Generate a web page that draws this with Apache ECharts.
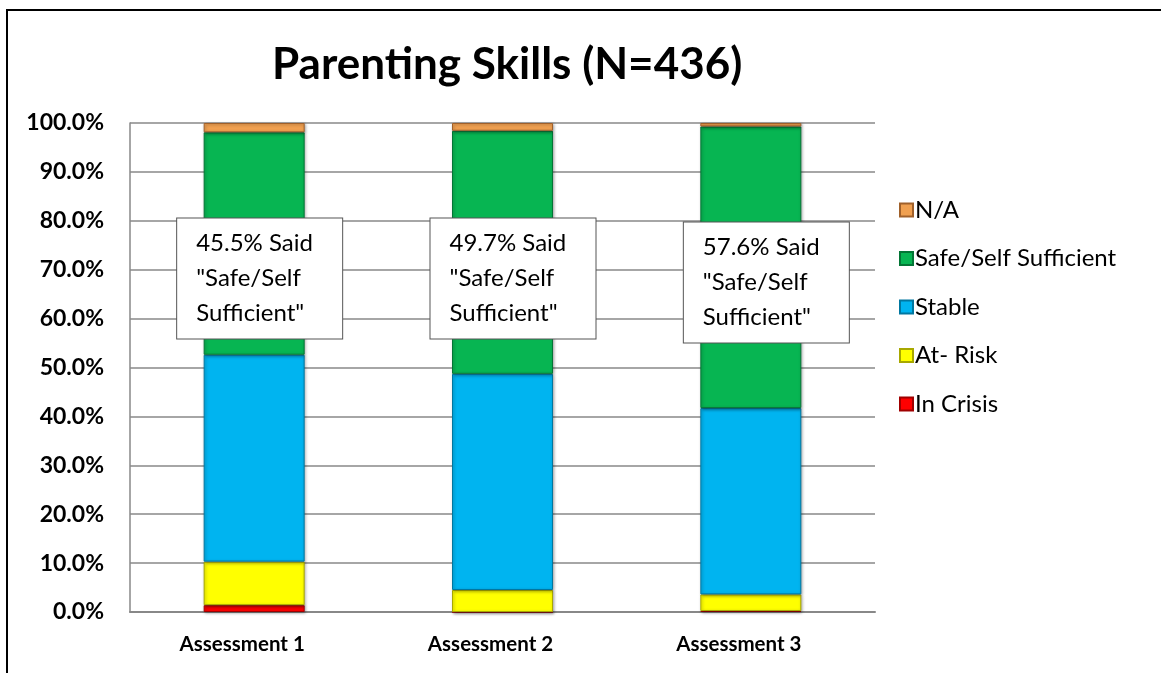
<!DOCTYPE html>
<html>
<head>
<meta charset="utf-8">
<script src="https://cdn.jsdelivr.net/npm/echarts@6/dist/echarts.min.js"></script>
<style>
  html, body { margin: 0; padding: 0; background: #fff; }
  #chart { width: 1161px; height: 673px; }
</style>
</head>
<body>
<div id="chart"></div>
<script>
// values, percent of N=436
const categories = ['Assessment 1', 'Assessment 2', 'Assessment 3']
const inCrisis = [1.4, 0, 0.2]
const atRisk = [8.9, 4.5, 3.4]
const stable = [42.3, 44.2, 38.1]
const safeSelf = [45.5, 49.7, 57.6]
const notApplicable = [1.9, 1.6, 0.7]
// where the callout boxes sit on the value axis
const calloutY = [68.2, 68.2, 67.4]
const yTicks = [0, 10, 20, 30, 40, 50, 60, 70, 80, 90, 100]

// layout only: horizontal nudge of each callout box (px)
const calloutShift = [-77, -72, -67]

const font = 'Lato'

const barSeries = (name, data, color, border) => ({
  name,
  type: 'bar',
  stack: 'total',
  barWidth: 101,
  data,
  itemStyle: {
    color,
    borderColor: border,
    borderWidth: 1,
    shadowColor: 'rgba(0,0,0,0.35)',
    shadowBlur: 3,
    shadowOffsetX: 1,
    shadowOffsetY: 1
  }
})

const chart = echarts.init(document.getElementById('chart'))

chart.setOption({
  animation: false,
  backgroundColor: '#fff',
  textStyle: { fontFamily: font },
  title: {
    text: 'Parenting Skills (N=436)',
    left: 272,
    top: 43,
    padding: 0,
    textStyle: { fontFamily: font, fontSize: 44, fontWeight: 'bold', color: '#000' }
  },
  legend: {
    orient: 'vertical',
    left: 899,
    top: 198,
    padding: 0,
    itemWidth: 13,
    itemHeight: 13,
    itemGap: 24.5,
    icon: 'rect',
    data: ['N/A', 'Safe/Self Sufficient', 'Stable', 'At- Risk', 'In Crisis'],
    textStyle: { fontFamily: font, fontSize: 24, lineHeight: 24, color: '#000', padding: [0, 0, 0, -3] }
  },
  grid: { left: 130, right: 286, top: 123, bottom: 61 },
  xAxis: {
    type: 'category',
    data: categories,
    axisLine: { lineStyle: { color: '#888', width: 2 } },
    axisTick: { show: false },
    axisLabel: {
      fontFamily: font, fontSize: 20.5, fontWeight: 'bold', color: '#000', margin: 22,
      padding: [0, 24, 0, 0]
    }
  },
  yAxis: {
    type: 'value',
    min: yTicks[0],
    max: yTicks[yTicks.length - 1],
    interval: 10,
    axisLine: { show: true, lineStyle: { color: '#888', width: 1.5 } },
    axisTick: { show: false },
    splitLine: { lineStyle: { color: '#888', width: 1.5 } },
    axisLabel: {
      fontFamily: font, fontSize: 23, fontWeight: 'bold', color: '#000', margin: 26,
      formatter: v => v.toFixed(1) + '%'
    }
  },
  graphic: [{
    type: 'rect',
    shape: { x: 7, y: 10, width: 1300, height: 800 },
    style: { fill: 'none', stroke: '#000', lineWidth: 2 },
    silent: true
  }],
  series: [
    barSeries('In Crisis', inCrisis, '#FF0000', '#A00000'),
    barSeries('At- Risk', atRisk, '#FFFF00', '#A8A800'),
    barSeries('Stable', stable, '#00B4F0', '#0077A0'),
    barSeries('Safe/Self Sufficient', safeSelf, '#07B552', '#037535'),
    barSeries('N/A', notApplicable, '#F0A050', '#A0602A'),
    {
      type: 'scatter',
      symbolSize: 0,
      z: 10,
      itemStyle: { opacity: 1 },
      data: calloutY.map((y, i) => ({
        value: y,
        label: { offset: [calloutShift[i], 0] }
      })),
      label: {
        show: true,
        position: 'inside',
        formatter: p => safeSelf[p.dataIndex].toFixed(1) + '% Said\n"Safe/Self\nSufficient"',
        fontFamily: font,
        fontSize: 24,
        lineHeight: 35,
        color: '#000',
        opacity: 1,
        align: 'left',
        width: 127,
        backgroundColor: '#fff',
        borderColor: '#555',
        borderWidth: 1,
        padding: [11, 19, 4, 19]
      }
    }
  ]
})
</script>
</body>
</html>
